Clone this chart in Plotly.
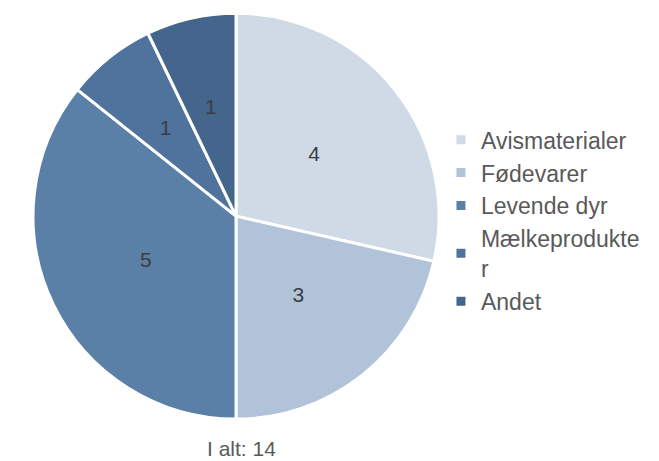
import plotly.graph_objects as go

categories = ["Avismaterialer", "Fødevarer", "Levende dyr", "Mælkeprodukte<br>r", "Andet"]
values = [4, 3, 5, 1, 1]
colors = ["#cfdae6", "#b0c3d9", "#5a80a8", "#4f739c", "#44658c"]
total_label = "I alt: 14"

FONT = "Liberation Sans, Arial"

# main pie (slices, legend)
fig = go.Figure(go.Pie(
    labels=categories,
    values=values,
    sort=False,
    direction="clockwise",
    rotation=0,
    marker=dict(colors=colors, line=dict(color="white", width=3)),
    textinfo="none",
    domain=dict(x=[0.038, 0.654], y=[0.108, 0.989]),
    hoverinfo="label+value",
))

# transparent ring carrying the value labels at mid-radius
fig.add_trace(go.Pie(
    labels=categories,
    values=values,
    sort=False,
    direction="clockwise",
    rotation=0,
    hole=0.45,
    marker=dict(colors=["rgba(0,0,0,0)"] * len(values), line=dict(width=0)),
    textinfo="value",
    textposition="inside",
    insidetextorientation="horizontal",
    textfont=dict(family=FONT, size=21, color="#3d3d3d"),
    domain=dict(x=[0.1366, 0.5554], y=[0.2492, 0.8478]),
    showlegend=False,
    hoverinfo="skip",
))

fig.update_layout(
    width=659, height=461,
    margin=dict(l=0, r=0, t=0, b=0),
    paper_bgcolor="white",
    plot_bgcolor="white",
    showlegend=True,
    legend=dict(
        x=0.657, y=0.761, xanchor="left", yanchor="top",
        font=dict(family=FONT, size=23, color="#595959"),
        itemwidth=30, tracegroupgap=0,
        bgcolor="rgba(0,0,0,0)",
    ),
    annotations=[dict(
        text=total_label, x=233 / 659, y=1 - 440 / 461, xref="paper", yref="paper",
        showarrow=False, xanchor="center", yanchor="middle",
        font=dict(family=FONT, size=21, color="#595959"),
    )],
)

fig.write_html("out.html")
